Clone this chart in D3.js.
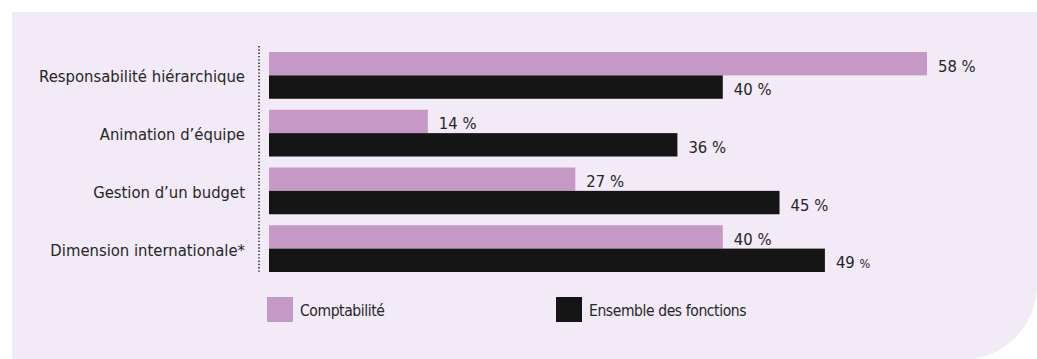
<!DOCTYPE html>
<html>
<head>
<meta charset="utf-8">
<script src="https://cdn.jsdelivr.net/npm/d3@7"></script>
<style>
  html, body { margin: 0; padding: 0; background: #ffffff; }
  svg { display: block; }
  text { font-family: "DejaVu Sans Condensed", "DejaVu Sans", sans-serif; fill: #262626; }
</style>
</head>
<body>
<svg id="chart" width="1037" height="359"></svg>
<script>
// ---- Data ----
const categories = ["Responsabilité hiérarchique", "Animation d’équipe", "Gestion d’un budget", "Dimension internationale*"];
const seriesNames = ["Comptabilité", "Ensemble des fonctions"];
const comptabilite = [58, 14, 27, 40];
const ensemble = [40, 36, 45, 49];
const seriesColors = ["#C598C6", "#151515"];

const svg = d3.select("#chart");

// Panel background with rounded bottom-right corner
svg.append("path")
  .attr("d", "M12,12 H1037 V285 A75,75 0 0 1 962,360 H12 Z")
  .attr("fill", "#F2EAF6");

const x = d3.scaleLinear().domain([0, 58]).range([269, 927]);
const y = d3.scaleBand().domain(categories).range([52, 272]).paddingInner(0.19).paddingOuter(0);
const ySub = d3.scaleBand().domain(seriesNames).range([0, y.bandwidth()]);
const color = d3.scaleOrdinal().domain(seriesNames).range(seriesColors);

const rows = categories.map((c, i) => ({
  cat: c,
  vals: [
    { s: seriesNames[0], v: comptabilite[i] },
    { s: seriesNames[1], v: ensemble[i] }
  ]
}));

// Dotted axis line
svg.append("line")
  .attr("x1", 259).attr("x2", 259)
  .attr("y1", y.range()[0] - 6).attr("y2", y.range()[1])
  .attr("stroke", "#333")
  .attr("stroke-width", 1.6)
  .attr("stroke-dasharray", "1.4,1.9");

// Category labels
svg.append("g").selectAll("text")
  .data(categories)
  .join("text")
  .attr("x", 245)
  .attr("y", d => y(d) + y.bandwidth() / 2 + 7)
  .attr("text-anchor", "end")
  .attr("font-size", 16.5)
  .text(d => d);

// Bars
const g = svg.append("g").selectAll("g")
  .data(rows)
  .join("g")
  .attr("transform", d => `translate(0,${y(d.cat)})`);

g.selectAll("rect")
  .data(d => d.vals)
  .join("rect")
  .attr("x", x(0))
  .attr("y", d => ySub(d.s))
  .attr("width", d => x(d.v) - x(0))
  .attr("height", ySub.bandwidth())
  .attr("fill", d => color(d.s));

// Value labels
const lbl = g.selectAll("text")
  .data(d => d.vals)
  .join("text")
  .attr("x", d => x(d.v) + 11)
  .attr("y", d => ySub(d.s) + ySub.bandwidth() / 2 + 8)
  .attr("font-size", 16.5);
lbl.each(function(d) {
  const t = d3.select(this);
  const isLast = d.s === seriesNames[1] && d.v === ensemble[ensemble.length - 1];
  t.append("tspan").text(d.v + " ");
  t.append("tspan").attr("font-size", isLast ? 12.5 : 16.5).text("%");
});

// Legend
const legendX = [267, 556];
const leg = svg.append("g").selectAll("g")
  .data(seriesNames)
  .join("g")
  .attr("transform", (d, i) => `translate(${legendX[i]},297)`);
leg.append("rect")
  .attr("width", 26).attr("height", 25)
  .attr("fill", d => color(d));
leg.append("text")
  .attr("x", 33)
  .attr("y", 19)
  .attr("font-size", 15.5)
  .attr("letter-spacing", -0.4)
  .text(d => d);
</script>
</body>
</html>
